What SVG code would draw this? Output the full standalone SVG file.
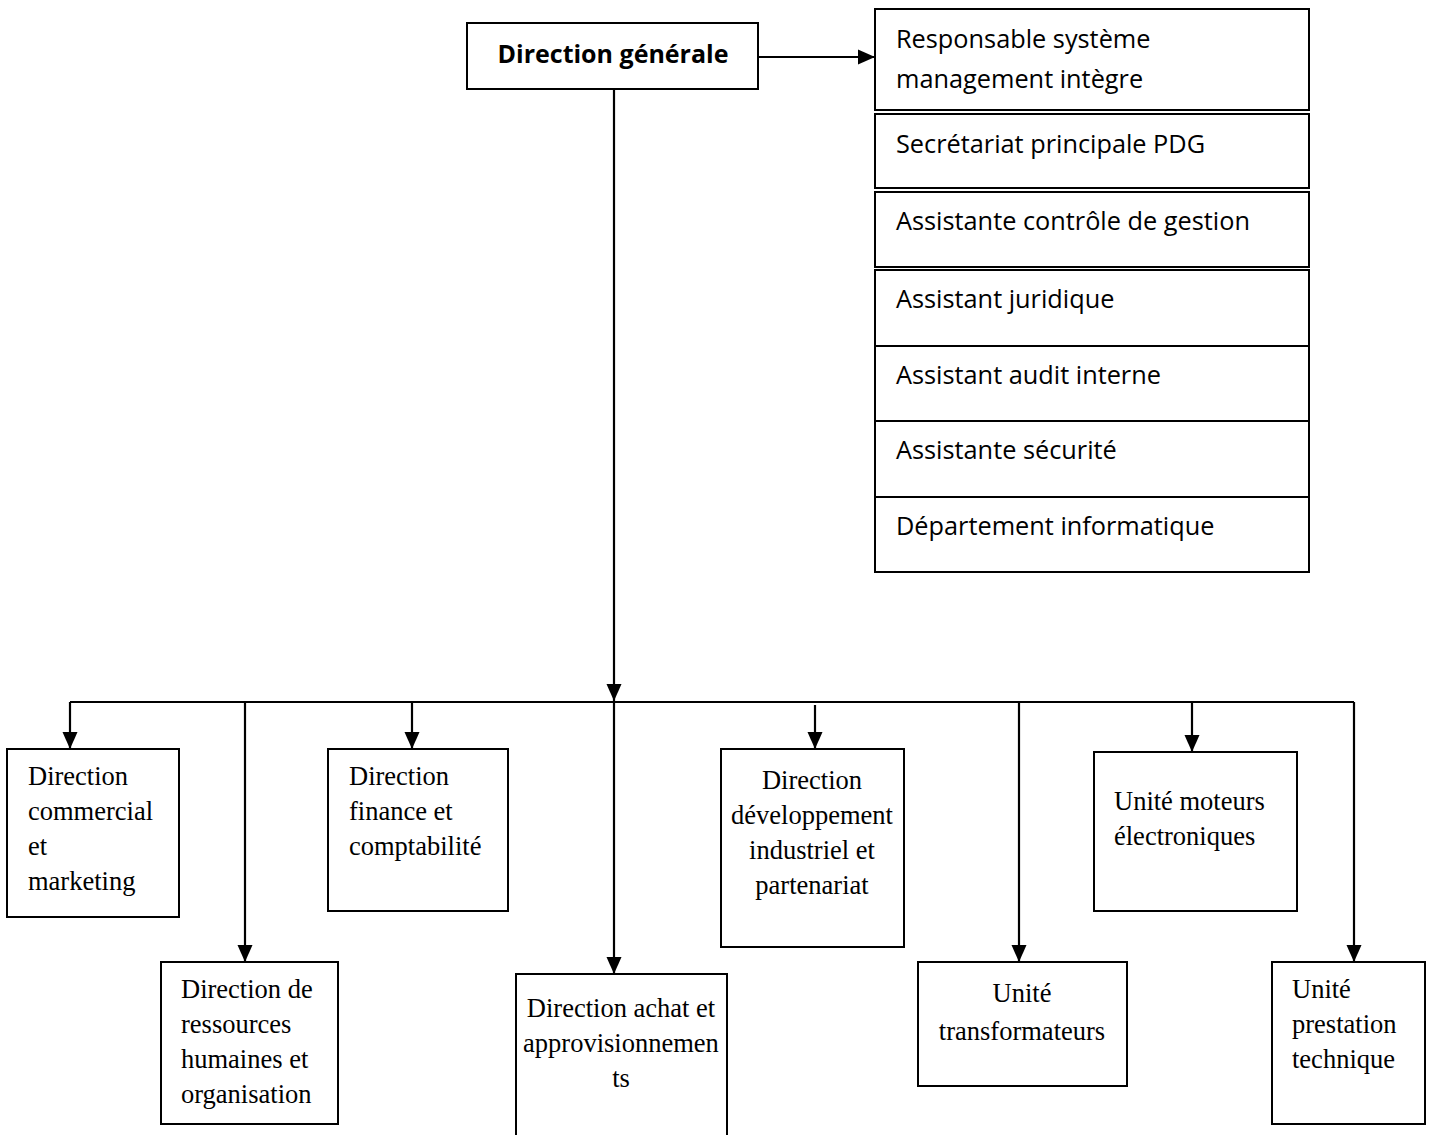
<svg xmlns="http://www.w3.org/2000/svg" width="1434" height="1135" viewBox="0 0 1434 1135">
<defs>
<marker id="arr" markerUnits="userSpaceOnUse" markerWidth="17" markerHeight="16" refX="17" refY="8" orient="auto">
<path d="M0,0.5 L17,8 L0,15.5 z" fill="#000"/>
</marker>
</defs>
<style>
.box{fill:#fff;stroke:#000;stroke-width:2}
.sans{font-family:"Open Sans","Noto Sans","Liberation Sans",sans-serif;font-size:25.3px;fill:#000}
.bold{font-weight:bold;font-size:25px}
.serif{font-family:"Liberation Serif","Times New Roman",serif;font-size:26.5px;fill:#000}
.ln{fill:none;stroke:#000;stroke-width:2.2}
.ar{fill:none;stroke:#000;stroke-width:2.2;marker-end:url(#arr)}
</style>
<rect width="1434" height="1135" fill="#fff"/>
<g id="connectors">
<line class="ar" x1="758" y1="57" x2="875" y2="57"/>
<line class="ar" x1="614" y1="89" x2="614" y2="701"/>
<polyline class="ln" points="70,702 1354,702"/>
<line class="ar" x1="70" y1="702" x2="70" y2="749"/>
<line class="ar" x1="245" y1="701" x2="245" y2="962"/>
<line class="ar" x1="412" y1="702" x2="412" y2="749"/>
<line class="ar" x1="614" y1="702" x2="614" y2="974"/>
<line class="ar" x1="815" y1="705" x2="815" y2="749"/>
<line class="ar" x1="1019" y1="701" x2="1019" y2="962"/>
<line class="ar" x1="1192" y1="702" x2="1192" y2="752"/>
<line class="ar" x1="1354" y1="702" x2="1354" y2="962"/>
</g>
<g id="dg">
<rect class="box" x="467" y="23" width="291" height="66"/>
<text class="sans bold" x="613" y="63" text-anchor="middle">Direction générale</text>
</g>
<g id="rsmi">
<rect class="box" x="875" y="9" width="434" height="101"/>
<text class="sans" x="896" y="48">Responsable système</text>
<text class="sans" x="896" y="88">management intègre</text>
</g>
<g id="secretariat">
<rect class="box" x="875" y="114" width="434" height="74"/>
<text class="sans" x="896" y="153">Secrétariat principale PDG</text>
</g>
<g id="controle">
<rect class="box" x="875" y="192" width="434" height="75"/>
<text class="sans" x="896" y="230">Assistante contrôle de gestion</text>
</g>
<g id="juridique">
<rect class="box" x="875" y="270" width="434" height="76"/>
<text class="sans" x="896" y="308">Assistant juridique</text>
</g>
<g id="audit">
<rect class="box" x="875" y="346" width="434" height="75"/>
<text class="sans" x="896" y="384">Assistant audit interne</text>
</g>
<g id="securite">
<rect class="box" x="875" y="421" width="434" height="76"/>
<text class="sans" x="896" y="459">Assistante sécurité</text>
</g>
<g id="informatique">
<rect class="box" x="875" y="497" width="434" height="75"/>
<text class="sans" x="896" y="535">Département informatique</text>
</g>
<g id="commercial">
<rect class="box" x="7" y="749" width="172" height="168"/>
<text class="serif" x="28" y="785">Direction</text>
<text class="serif" x="28" y="820">commercial</text>
<text class="serif" x="28" y="855">et</text>
<text class="serif" x="28" y="890">marketing</text>
</g>
<g id="rh">
<rect class="box" x="161" y="962" width="177" height="162"/>
<text class="serif" x="181" y="998">Direction de</text>
<text class="serif" x="181" y="1033">ressources</text>
<text class="serif" x="181" y="1068">humaines et</text>
<text class="serif" x="181" y="1103">organisation</text>
</g>
<g id="finance">
<rect class="box" x="328" y="749" width="180" height="162"/>
<text class="serif" x="349" y="785">Direction</text>
<text class="serif" x="349" y="820">finance et</text>
<text class="serif" x="349" y="855">comptabilité</text>
</g>
<g id="achat">
<rect class="box" x="516" y="974" width="211" height="175"/>
<text class="serif" x="621" y="1017" text-anchor="middle">Direction achat et</text>
<text class="serif" x="621" y="1052" text-anchor="middle">approvisionnemen</text>
<text class="serif" x="621" y="1087" text-anchor="middle">ts</text>
</g>
<g id="developpement">
<rect class="box" x="721" y="749" width="183" height="198"/>
<text class="serif" x="812" y="789" text-anchor="middle">Direction</text>
<text class="serif" x="812" y="824" text-anchor="middle">développement</text>
<text class="serif" x="812" y="859" text-anchor="middle">industriel et</text>
<text class="serif" x="812" y="894" text-anchor="middle">partenariat</text>
</g>
<g id="transformateurs">
<rect class="box" x="918" y="962" width="209" height="124"/>
<text class="serif" x="1022" y="1002" text-anchor="middle">Unité</text>
<text class="serif" x="1022" y="1040" text-anchor="middle">transformateurs</text>
</g>
<g id="moteurs">
<rect class="box" x="1094" y="752" width="203" height="159"/>
<text class="serif" x="1114" y="810">Unité moteurs</text>
<text class="serif" x="1114" y="845">électroniques</text>
</g>
<g id="prestation">
<rect class="box" x="1272" y="962" width="153" height="162"/>
<text class="serif" x="1292" y="998">Unité</text>
<text class="serif" x="1292" y="1033">prestation</text>
<text class="serif" x="1292" y="1068">technique</text>
</g>
</svg>
